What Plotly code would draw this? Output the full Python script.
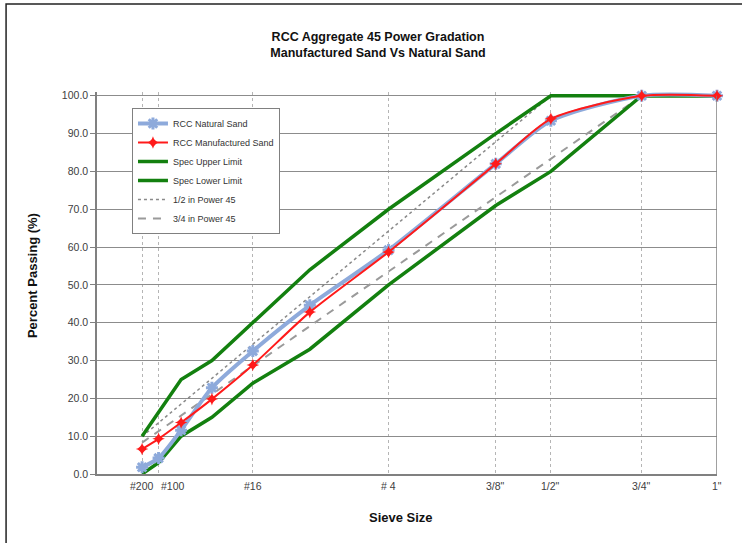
import plotly.graph_objects as go

# Sieve openings (mm) and their labels
sieve_mm = [0.075, 0.15, 0.3, 0.6, 1.18, 2.36, 4.75, 9.525, 12.7, 19.05, 25.4]
sieve_names = ['#200', '#100', '#50', '#30', '#16', '#8', '#4', '3/8"', '1/2"', '3/4"', '1"']

# Percent passing for each sieve
natural_sand = [1.8, 4.2, 11.6, 22.8, 32.5, 44.6, 59.2, 82.0, 93.4, 100.0, 100.0]
manufactured_sand = [6.6, 9.3, 13.6, 19.8, 28.8, 42.8, 58.7, 82.0, 93.9, 100.0, 100.0]
spec_upper = [10.0, 16.3, 25.0, 30.0, 40.0, 54.0, 70.0, 90.0, 100.0, 100.0, 100.0]
spec_lower = [0.0, 3.0, 10.0, 15.0, 24.0, 33.0, 50.0, 71.0, 80.0, 100.0, 100.0]

# Maximum density (0.45 power) lines, 1/2" and 3/4" nominal max size
power45_half_mm = [0.075, 0.15, 0.3, 0.6, 1.18, 2.36, 4.75, 9.525, 12.7]
power45_half = [9.9, 13.6, 18.5, 25.3, 34.3, 46.9, 64.2, 87.9, 100.0]
power45_three_q_mm = [0.075, 0.15, 0.3, 0.6, 1.18, 2.36, 4.75, 9.525, 12.7, 19.05]
power45_three_q = [8.3, 11.3, 15.4, 21.1, 28.6, 39.1, 53.5, 73.2, 83.3, 100.0]

# Labelled sieves on the horizontal axis
tick_mm = [0.075, 0.15, 1.18, 4.75, 9.525, 12.7, 19.05, 25.4]
tick_text = ['#200', '#100', '#16', '# 4', '3/8"', '1/2"', '3/4"', '1"']
# '#100' sits right of its grid line so it clears '#200'
tick_anchor = ['center', 'left', 'center', 'center', 'center', 'center', 'center', 'center']

EXP = 0.45


def p45(values):
    return [v ** EXP for v in values]


FONT = 'Liberation Sans, Arial, sans-serif'
x_max = 25.4 ** EXP

fig = go.Figure()

fig.add_trace(go.Scatter(
    x=p45(power45_half_mm), y=power45_half, mode='lines', name='1/2 in Power 45',
    line=dict(color='#8a8a8a', width=1.5, dash='dot'), legendrank=5))
fig.add_trace(go.Scatter(
    x=p45(power45_three_q_mm), y=power45_three_q, mode='lines', name='3/4 in Power 45',
    line=dict(color='#9a9a9a', width=2, dash='8px,7px'), legendrank=6))
fig.add_trace(go.Scatter(
    x=p45(sieve_mm), y=spec_upper, mode='lines', name='Spec Upper Limit',
    line=dict(color='#13800f', width=3.5), legendrank=3))
fig.add_trace(go.Scatter(
    x=p45(sieve_mm), y=spec_lower, mode='lines', name='Spec Lower Limit',
    line=dict(color='#13800f', width=3.5), legendrank=4))
fig.add_trace(go.Scatter(
    x=p45(sieve_mm), y=natural_sand, mode='lines+markers', name='RCC Natural Sand',
    text=sieve_names,
    line=dict(color='#8eaadb', width=4, shape='spline', smoothing=0.7),
    marker=dict(symbol='asterisk-open', size=10, color='#8eaadb',
                line=dict(color='#8eaadb', width=3)),
    cliponaxis=False, legendrank=1))
fig.add_trace(go.Scatter(
    x=p45(sieve_mm), y=manufactured_sand, mode='lines+markers', name='RCC Manufactured Sand',
    text=sieve_names,
    line=dict(color='#ff1a1a', width=2, shape='spline', smoothing=0.7),
    marker=dict(symbol='star-diamond', size=9, color='#ff1a1a'),
    cliponaxis=False, legendrank=2))

# Sieve labels under the axis
tick_labels = [
    dict(text=t, xref='x', yref='paper', x=v, y=-12 / 382,
         xanchor=a, yanchor='middle', showarrow=False,
         font=dict(family=FONT, size=10.5, color='#404040'))
    for t, v, a in zip(tick_text, p45(tick_mm), tick_anchor)
]

fig.update_layout(
    width=742, height=543,
    margin=dict(l=97, r=24.5, t=92, b=69),
    paper_bgcolor='white', plot_bgcolor='white',
    font=dict(family=FONT, color='#404040', size=10.5),
    title=dict(
        text='RCC Aggregate 45 Power Gradation<br>Manufactured Sand Vs Natural Sand',
        font=dict(family=FONT, size=12.5, color='#111111', weight='bold'),
        xref='container', x=378 / 742, xanchor='center',
        yref='container', y=1 - 41 / 543, yanchor='top'),
    xaxis=dict(
        range=[0, x_max], tickmode='array',
        tickvals=p45(tick_mm), showticklabels=False,
        showgrid=True, gridcolor='#b5b5b5', griddash='dot', gridwidth=1,
        showline=True, linecolor='#808080', linewidth=1.5,
        ticks='', zeroline=False),
    yaxis=dict(
        range=[0, 101], tick0=0, dtick=10, tickformat='.1f',
        showgrid=True, gridcolor='#8c8c8c', gridwidth=1,
        showline=True, linecolor='#808080', linewidth=1.5,
        ticks='outside', ticklen=5, tickcolor='#808080', zeroline=False,
        tickfont=dict(family=FONT, size=10.5, color='#404040')),
    legend=dict(
        x=(132 - 97) / 620.5, y=(474 - 108) / 382, xanchor='left', yanchor='top',
        bgcolor='white', bordercolor='#808080', borderwidth=1,
        font=dict(family=FONT, size=9, color='#333333'),
        tracegroupgap=0),
    showlegend=True,
    annotations=tick_labels + [
        dict(text='<b>Percent Passing (%)</b>', textangle=-90,
             xref='paper', yref='paper', x=(32 - 97) / 620.5, y=(474 - 276) / 382,
             xanchor='center', yanchor='middle', showarrow=False,
             font=dict(family=FONT, size=13, color='#111111')),
        dict(text='<b>Sieve Size</b>',
             xref='paper', yref='paper', x=(401.5 - 97) / 620.5, y=(474 - 517) / 382,
             xanchor='center', yanchor='middle', showarrow=False,
             font=dict(family=FONT, size=13, color='#111111')),
    ],
    shapes=[
        # right edge of the plotting area
        dict(type='line', xref='x', yref='y', x0=x_max, x1=x_max, y0=0, y1=100,
             line=dict(color='#808080', width=1.5)),
        # chart frame
        dict(type='rect', xref='paper', yref='paper',
             x0=(6 - 97) / 620.5, x1=(760 - 97) / 620.5,
             y0=(474 - 560) / 382, y1=(474 - 4) / 382,
             line=dict(color='#222222', width=1.5), fillcolor='rgba(0,0,0,0)'),
    ],
)

fig.write_html('out.html')
